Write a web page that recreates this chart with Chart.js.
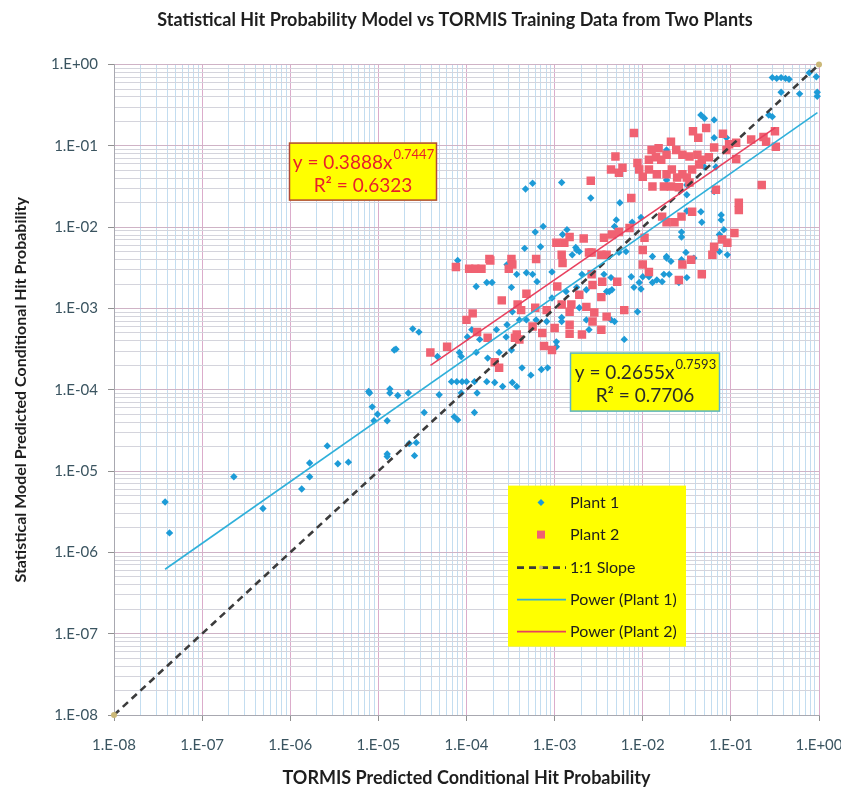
<!DOCTYPE html>
<html><head><meta charset="utf-8">
<script src="https://cdn.jsdelivr.net/npm/chart.js@4.4.1/dist/chart.umd.min.js"></script>
<style>html,body{margin:0;padding:0;background:#fff;}</style>
</head><body>
<canvas id="c" width="841" height="790"></canvas>
<script>
const chartTitle = 'Statistical Hit Probability Model vs TORMIS Training Data from Two Plants';
const xAxisTitle = 'TORMIS Predicted Conditional Hit Probability';
const yAxisTitle = 'Statistical Model Predicted Conditional Hit Probability';
const decadeExponents = [-8, -7, -6, -5, -4, -3, -2, -1, 0];
const xTickLabels = ['1.E-08','1.E-07','1.E-06','1.E-05','1.E-04','1.E-03','1.E-02','1.E-01','1.E+00'];
const yTickLabels = ['1.E-08','1.E-07','1.E-06','1.E-05','1.E-04','1.E-03','1.E-02','1.E-01','1.E+00'];
const minorMultipliers = [1, 2, 3, 4, 5, 6, 7, 8, 9];
const seriesNames = ['Plant 1', 'Plant 2', '1:1 Slope', 'Power (Plant 1)', 'Power (Plant 2)'];

// Points, stored as [log10(TORMIS), log10(Statistical model)]
const plant1Log10Points = [
[-7.42,-5.38],[-7.37,-5.76],[-6.64,-5.07],[-6.31,-5.46],[-5.87,-5.22],[-5.78,-5.07],[-5.78,-4.90],[-5.58,-4.69],[-5.46,-4.91],[-5.34,-4.89],
[-5.10,-4.04],[-5.11,-4.02],[-5.07,-4.21],[-5.01,-4.30],[-5.05,-4.38],[-4.90,-4.38],[-4.87,-3.99],[-4.87,-4.04],[-4.78,-4.07],[-4.66,-4.04],
[-4.82,-3.51],[-4.61,-3.25],[-4.54,-3.29],[-4.90,-4.82],[-4.90,-4.79],[-4.65,-4.66],[-4.59,-4.81],[-4.57,-4.65],
[-3.33,-1.53],[-3.25,-1.46],[-2.92,-1.45],[-2.59,-1.64],[-3.22,-2.06],[-3.13,-1.99],[-3.16,-2.24],[-3.34,-2.26],[-2.91,-2.09],[-2.86,-2.03],
[-2.76,-2.25],[-2.72,-2.30],[-2.80,-2.34],
[-0.53,-0.16],[-0.48,-0.17],[-0.43,-0.16],[-0.38,-0.17],[-0.34,-0.18],[-0.11,-0.10],[-0.03,-0.15],[-0.02,-0.34],[-0.02,-0.39],[-0.43,-0.34],
[-0.22,-0.36],[-1.34,-0.62],[-1.30,-0.66],[-1.19,-0.68],[-0.57,-0.62],[-0.53,-0.64],[-1.19,-0.90],[-1.05,-0.90],[-1.73,-1.05],[-1.30,-1.26],
[-1.17,-1.26],[-1.50,-1.48],[-1.73,-1.42],[-1.50,-1.60],[-1.19,-1.56],[-2.26,-1.70],[-1.34,-1.81],[-1.50,-1.80],[-1.56,-1.87],[-1.11,-1.85],
[-1.11,-1.91],[-1.33,-1.94],[-1.56,-2.06],[-1.56,-2.12],[-1.13,-2.09],[-1.08,-2.03],[-2.30,-1.91],[-2.32,-1.99],[-2.02,-1.88],[-2.12,-1.94],
[-2.19,-2.30],[-2.27,-2.31],[-1.89,-2.36],[-1.73,-2.36],[-1.51,-2.31],[-1.13,-2.30],[-1.04,-2.34],
[-4.10,-2.41],[-3.89,-2.73],[-3.77,-2.68],[-3.71,-2.68],[-3.49,-2.74],[-3.54,-2.46],[-3.43,-2.58],[-3.32,-2.56],[-3.25,-2.58],[-3.20,-2.67],
[-3.03,-2.55],[-3.48,-3.04],[-3.40,-3.14],[-3.32,-3.14],[-3.21,-3.14],[-3.09,-3.16],[-2.92,-3.11],[-2.92,-3.16],[-3.03,-2.87],[-2.87,-2.79],
[-2.75,-2.28],[-2.69,-2.58],[-2.75,-2.74],[-2.64,-2.77],[-2.72,-2.99],[-2.64,-3.14],[-2.61,-3.26],[-2.41,-2.79],[-2.44,-2.58],[-4.80,-3.50],
[-3.94,-3.26],[-3.89,-3.30],[-3.99,-3.35],[-3.85,-3.38],[-4.08,-3.54],[-4.06,-3.59],[-4.33,-3.59],[-3.89,-3.54],[-3.66,-3.26],[-3.54,-3.20],
[-3.55,-3.35],[-3.76,-3.61],[-3.63,-3.54],[-3.49,-3.51],[-3.37,-3.73],[-3.27,-3.82],[-3.15,-3.75],[-3.08,-3.73],[-2.98,-3.47],[-2.98,-3.41],
[-4.17,-3.90],[-4.11,-3.90],[-4.05,-3.90],[-4.00,-3.90],[-3.91,-3.90],[-3.77,-3.90],[-3.68,-3.91],[-4.06,-4.04],[-3.88,-4.04],[-4.31,-4.06],
[-4.48,-4.28],[-4.14,-4.33],[-4.10,-4.37],[-3.91,-4.28],[-3.59,-3.96],[-3.48,-3.91],[-3.43,-3.96],
[-1.73,-2.38],[-1.68,-2.42],[-1.56,-2.40],[-1.42,-2.38],[-2.13,-2.61],[-2.04,-2.68],[-2.00,-2.61],[-1.93,-2.61],[-1.89,-2.68],[-1.84,-2.65],
[-1.76,-2.58],[-1.70,-2.58],[-1.78,-2.67],[-2.10,-2.74],[-2.02,-2.76],[-1.50,-2.62],[-1.59,-2.68],[-2.36,-2.62],[-2.35,-2.77],[-2.38,-2.79],
[-2.06,-3.04],[-2.36,-3.14],[-2.32,-3.16],[-2.47,-3.26],[-2.21,-3.38]
];
const plant2Log10Points = [
[-2.59,-1.43],[-2.98,-2.19],[-2.89,-2.19],[-2.83,-2.12],[-2.92,-2.34],[-2.67,-2.14],[-2.44,-2.13],[-2.58,-2.31],[-3.49,-2.39],[-3.74,-2.39],
[-3.21,-2.39],[-1.43,-0.82],[-1.28,-0.78],[-1.37,-0.90],[-1.09,-0.85],[-0.77,-0.92],[-0.63,-0.89],[-0.50,-0.82],[-0.60,-0.95],[-0.49,-1.01],
[-0.94,-1.16],[-0.65,-1.48],[-0.91,-1.70],[-0.91,-1.79],[-1.68,-0.95],[-2.10,-0.84],[-1.90,-1.05],[-1.82,-1.03],[-1.73,-1.11],[-1.62,-1.05],
[-1.55,-1.11],[-1.47,-1.13],[-1.38,-1.11],[-1.33,-1.17],[-1.25,-1.14],[-1.19,-1.02],[-1.05,-1.05],[-1.02,-0.98],[-0.94,-0.96],[-2.31,-1.13],
[-2.36,-1.29],[-2.23,-1.27],[-2.27,-1.33],[-2.06,-1.21],[-2.04,-1.29],[-1.93,-1.17],[-1.85,-1.14],[-1.79,-1.17],[-2.00,-1.38],[-1.93,-1.29],
[-1.84,-1.35],[-1.73,-1.35],[-1.67,-1.29],[-1.61,-1.39],[-1.55,-1.35],[-1.50,-1.39],[-1.44,-1.29],[-1.36,-1.23],[-1.59,-1.51],[-1.68,-1.50],
[-1.76,-1.50],[-1.89,-1.50],[-1.47,-1.45],[-1.17,-1.54],[-2.13,-1.64],[-1.78,-1.87],[-1.73,-1.94],[-1.64,-1.94],[-1.56,-1.87],[-1.44,-1.81],
[-0.96,-2.07],[-1.10,-2.15],[-1.04,-2.19],[-1.19,-2.24],[-1.21,-2.34],[-2.00,-2.28],[-2.35,-2.09],[-2.27,-2.06],[-2.15,-2.01],[-1.98,-2.13],
[-2.41,-2.34],[-4.12,-2.49],[-3.97,-2.51],[-3.90,-2.51],[-3.83,-2.51],[-3.73,-2.41],[-3.48,-2.46],[-3.52,-2.51],[-2.91,-2.44],[-2.61,-2.31],
[-2.47,-2.34],[-3.32,-2.82],[-3.60,-2.90],[-3.42,-2.95],[-3.38,-3.02],[-3.22,-2.99],[-3.09,-3.02],[-3.25,-3.22],[-3.43,-3.32],[-3.45,-3.36],
[-3.40,-3.38],[-3.14,-3.30],[-3.00,-3.24],[-2.92,-2.95],[-2.81,-2.95],[-2.83,-3.04],[-2.72,-2.83],[-2.58,-2.58],[-2.57,-2.71],[-2.47,-2.86],
[-2.64,-2.98],[-2.55,-3.05],[-2.41,-3.10],[-2.57,-3.16],[-2.83,-3.20],[-2.83,-3.31],[-2.69,-3.32],[-2.47,-3.26],[-3.12,-3.46],[-3.03,-3.51],
[-3.68,-3.66],[-3.63,-3.73],[-3.93,-3.06],[-4.00,-3.14],[-3.88,-3.29],[-3.76,-3.36],[-4.22,-3.47],[-4.41,-3.54],[-2.97,-2.73],
[-2.00,-2.46],[-1.93,-2.55],[-1.55,-2.46],[-1.45,-2.40],[-1.33,-2.58],[-1.59,-2.65],[-2.29,-2.67],[-2.46,-2.67],[-2.21,-3.02]
];
const slopeX = [1e-8, 1];
const slopeY = [1e-8, 1];
const power1X = [3.8e-8, 0.96];
const power1Y = [6.2e-7, 0.257];
const power2X = [3.9e-5, 0.32];
const power2Y = [2.0e-4, 0.168];
const equation1 = ['y = 0.2655x', '0.7593', 'R\u00b2 = 0.7706'];
const equation2 = ['y = 0.3888x', '0.7447', 'R\u00b2 = 0.6323'];

const FONT = 'Lato, "Open Sans", sans-serif';
const toXY = pts => pts.map(p => ({x: Math.pow(10, p[0]), y: Math.pow(10, p[1])}));
const pairXY = (xs, ys) => xs.map((x, i) => ({x, y: ys[i]}));

function buildLogTicks(scale) {
  const t = [];
  decadeExponents.forEach(e => {
    minorMultipliers.forEach(m => {
      const v = m * Math.pow(10, e);
      if (v <= 1.0000001) t.push({value: v, major: m === 1});
    });
  });
  scale.ticks = t;
}
function decadeLabel(labels) {
  return function(value, index, ticks) {
    if (!ticks[index] || !ticks[index].major) return '';
    const e = Math.round(Math.log10(value));
    const k = decadeExponents.indexOf(e);
    return k >= 0 ? labels[k] : '';
  };
}

const overlay = {
  id: 'overlay',
  afterLayout(chart) {
    const tb = chart.titleBlock;
    if (tb) { tb.left = 455 - 360; tb.right = 455 + 360; }
  },
  afterDraw(chart) {
    const ctx = chart.ctx, a = chart.chartArea;
    function eqBox(x, y, w, h, border, color, eq) {
      ctx.save();
      ctx.fillStyle = '#ffff00';
      ctx.fillRect(x, y, w, h);
      ctx.strokeStyle = border; ctx.lineWidth = 1.5;
      ctx.strokeRect(x + 0.5, y + 0.5, w - 1, h - 1);
      ctx.fillStyle = color; ctx.textBaseline = 'middle'; ctx.textAlign = 'left';
      ctx.font = '19px ' + FONT;
      const bw = ctx.measureText(eq[0]).width;
      ctx.font = '13px ' + FONT;
      const sw = ctx.measureText(eq[1]).width;
      const sx = x + (w - bw - sw) / 2;
      ctx.font = '19px ' + FONT;
      ctx.fillText(eq[0], sx, y + 20);
      ctx.font = '13px ' + FONT;
      ctx.fillText(eq[1], sx + bw + 1, y + 12);
      ctx.font = '19px ' + FONT; ctx.textAlign = 'center';
      ctx.fillText(eq[2], x + w / 2, y + 43);
      ctx.restore();
    }
    eqBox(a.left + 175, a.top + 78, 148, 58, '#b04a3a', '#e8202a', equation2);
    eqBox(a.left + 456, a.top + 288, 150, 59, '#5ab4d0', '#2a2a2a', equation1);

    // legend
    const ds = chart.data.datasets;
    const lx = a.left + 394, ly = a.top + 421, lw = 178, lh = 161;
    ctx.save();
    ctx.fillStyle = '#ffff00';
    ctx.fillRect(lx, ly, lw, lh);
    const rows = [17, 49, 82, 114, 146];
    ctx.font = '16px ' + FONT; ctx.fillStyle = '#1e1e1e';
    ctx.textBaseline = 'middle'; ctx.textAlign = 'left';
    rows.forEach((ry, i) => {
      const y = ly + ry;
      const cx = lx + 33;
      const d = ds[i];
      if (i === 0) {
        ctx.fillStyle = d.pointBackgroundColor;
        ctx.beginPath(); ctx.moveTo(cx, y - 3.5); ctx.lineTo(cx + 3.5, y); ctx.lineTo(cx, y + 3.5); ctx.lineTo(cx - 3.5, y); ctx.closePath(); ctx.fill();
      } else if (i === 1) {
        ctx.fillStyle = d.pointBackgroundColor;
        ctx.fillRect(cx - 4, y - 4, 8, 8);
      } else {
        ctx.save();
        ctx.strokeStyle = d.borderColor; ctx.lineWidth = d.borderWidth;
        ctx.setLineDash(d.borderDash || []);
        ctx.beginPath(); ctx.moveTo(lx + 9, y); ctx.lineTo(lx + 58, y); ctx.stroke();
        ctx.restore();
        if (i === 2) {
          ctx.fillStyle = d.pointBackgroundColor;
          ctx.beginPath(); ctx.arc(cx, y, 2, 0, Math.PI * 2); ctx.fill();
        }
      }
      ctx.fillStyle = '#1e1e1e';
      ctx.fillText(d.label, lx + 62, y);
    });
    ctx.restore();
  }
};

const gridColor = (majorC, minorC) => c => (c.tick && c.tick.major) ? majorC : minorC;
const tickColor = c => (c.tick && c.tick.major) ? '#909090' : 'rgba(0,0,0,0)';

new Chart(document.getElementById('c'), {
  type: 'scatter',
  data: {
    datasets: [
      { label: seriesNames[0], data: toXY(plant1Log10Points), pointStyle: 'rectRot', pointRadius: 3.7,
        pointBackgroundColor: '#1d9bd7', pointBorderColor: '#1d9bd7', pointBorderWidth: 0, order: 5, clip: 4 },
      { label: seriesNames[1], data: toXY(plant2Log10Points), pointStyle: 'rect', pointRadius: 6,
        pointBackgroundColor: '#f06272', pointBorderColor: '#f06272', pointBorderWidth: 0, order: 4, clip: 4 },
      { label: seriesNames[2], data: pairXY(slopeX, slopeY), showLine: true, borderColor: '#3c3c3c', borderWidth: 2.6,
        borderDash: [7, 5], pointRadius: 3, pointBackgroundColor: '#cbb878', pointBorderWidth: 0, order: 3, clip: 6 },
      { label: seriesNames[3], data: pairXY(power1X, power1Y), showLine: true, borderColor: '#2fb0da', borderWidth: 1.6,
        pointRadius: 0, order: 2 },
      { label: seriesNames[4], data: pairXY(power2X, power2Y), showLine: true, borderColor: '#e8405e', borderWidth: 1.6,
        pointRadius: 0, order: 1 }
    ]
  },
  options: {
    responsive: false,
    animation: false,
    events: [],
    layout: { padding: { left: 0, right: 22, top: 0, bottom: 0 } },
    plugins: {
      legend: { display: false },
      tooltip: { enabled: false },
      title: { display: true, text: chartTitle, color: '#1e1e1e',
        font: { family: FONT, size: 18, weight: 'bold' }, padding: { top: 9, bottom: 34 } }
    },
    scales: {
      x: {
        type: 'logarithmic', position: 'bottom', min: 1e-8, max: 1,
        afterBuildTicks: buildLogTicks,
        afterFit: s => { s.height = 75; s.paddingRight = 0; s.paddingLeft = 0; },
        ticks: { autoSkip: false, maxRotation: 0, minRotation: 0, padding: 15, color: '#3a5460',
          font: { family: FONT, size: 15 }, callback: decadeLabel(xTickLabels) },
        grid: { color: gridColor('#dbaccb', '#c3ddf0'), tickColor: tickColor, tickLength: 6, lineWidth: 1 },
        border: { display: true, color: '#a8a8b0' },
        title: { display: true, text: xAxisTitle, color: '#1e1e1e', font: { family: FONT, size: 18, weight: 'bold' },
          padding: { top: 0, bottom: 1 } }
      },
      y: {
        type: 'logarithmic', position: 'left', min: 1e-8, max: 1,
        afterBuildTicks: buildLogTicks,
        afterFit: s => { s.width = 114; },
        ticks: { autoSkip: false, padding: 10, color: '#3a5460',
          font: { family: FONT, size: 15 }, callback: decadeLabel(yTickLabels) },
        grid: { color: gridColor('#cfb3c6', '#d4d4dc'), tickColor: tickColor, tickLength: 6, lineWidth: 1 },
        border: { display: true, color: '#a8a8b0' },
        title: { display: true, text: yAxisTitle, color: '#1e1e1e', font: { family: FONT, size: 16, weight: 'bold' },
          padding: { top: 11, bottom: 0 } }
      }
    }
  },
  plugins: [overlay]
});
</script>
</body></html>
